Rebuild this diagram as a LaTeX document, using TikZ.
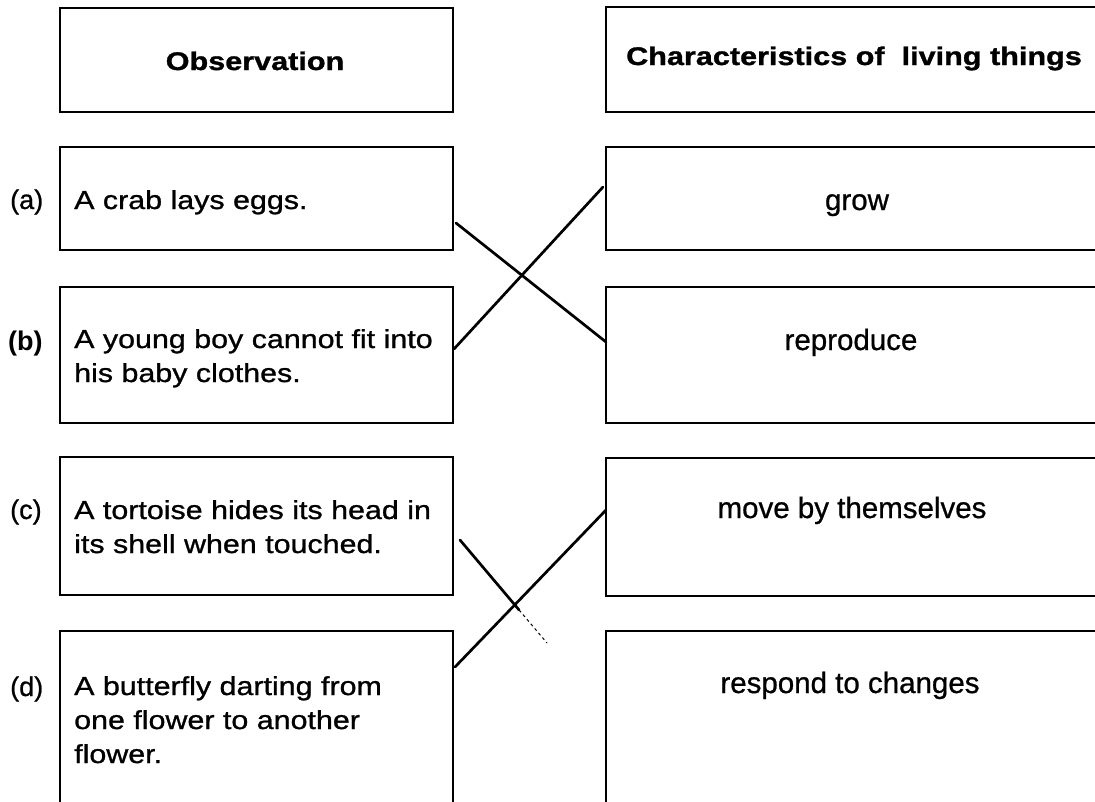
\documentclass[tikz,border=0pt]{standalone}
\usepackage{fontspec}
\setmainfont{Liberation Sans}
\newfontfamily\hdfont[FakeStretch=1.2,FakeBold=1.2]{Liberation Sans}
\newfontfamily\lffont[FakeStretch=1.17,FakeBold=1]{Liberation Sans}
\newfontfamily\rtfont[FakeBold=0.8]{Liberation Sans}
\usetikzlibrary{calc}
\begin{document}
\begin{tikzpicture}[x=1pt,y=-1pt,
  box/.style={draw=black, line width=2pt, rectangle, inner sep=0pt, outer sep=0pt},
  lbox/.style={box, minimum width=393pt},
  rbox/.style={box, minimum width=494pt},
  head/.style={font=\hdfont\bfseries\fontsize{25.5}{30}\selectfont, inner sep=0pt, anchor=base},
  ltext/.style={font=\lffont\fontsize{26}{34}\selectfont, inner sep=0pt, anchor=base west, align=left},
  rtext/.style={font=\rtfont\fontsize{29.5}{34}\selectfont, inner sep=0pt, anchor=base},
  tag/.style={font=\rtfont\fontsize{27}{32}\selectfont, inner sep=0pt, anchor=base west},
  link/.style={line width=2.7pt, line cap=round}]
\useasboundingbox (0,0) rectangle (1095,801);
\begin{scope}
\clip (0,0) rectangle (1095,801);
% boxes
\node[lbox, minimum height=104pt] (hobs) at (256.5,60) {};
\node[rbox, minimum height=105pt] (hchar) at (853,59.5) {};
\node[lbox, minimum height=103pt] (oa) at (256.5,198.5) {};
\node[lbox, minimum height=136pt] (ob) at (256.5,355) {};
\node[lbox, minimum height=138pt] (oc) at (256.5,526) {};
\node[lbox, minimum height=174pt] (od) at (256.5,718) {};
\node[rbox, minimum height=103pt] (cgrow) at (853,198.5) {};
\node[rbox, minimum height=136pt] (crep) at (853,355) {};
\node[rbox, minimum height=138pt] (cmove) at (853,527) {};
\node[rbox, minimum height=174pt] (cresp) at (853,718) {};
% headings
\node[head] (tobs) at (255,70) {Observation};
\node[head] (tchar) at (854,65) {Characteristics of~~living things};
% left texts (base anchor = baseline of last line)
\node[tag] (la) at (10,209) {(a)};
\node[ltext] (ta) at (74,209) {A crab lays eggs.};
\node[tag, font=\bfseries\fontsize{27}{32}\selectfont] (lb) at (8,350) {(b)};
\node[ltext] (tb) at (74,382) {A young boy cannot fit into\\his baby clothes.};
\node[tag] (lc) at (10,519) {(c)};
\node[ltext] (tc) at (74,553) {A tortoise hides its head in\\its shell when touched.};
\node[tag] (ld) at (10,696) {(d)};
\node[ltext] (td) at (74,763) {A butterfly darting from\\one flower to another\\flower.};
% right texts
\node[rtext] (tgrow) at (857,210) {grow};
\node[rtext] (trep) at (851,350) {reproduce};
\node[rtext] (tmove) at (852,518) {move by themselves};
\node[rtext] (tresp) at (850,693) {respond to changes};
% connectors
\draw[link] ([xshift=3pt,yshift=-24.5pt]oa.east) -- ([yshift=13pt]crep.west);
\draw[link] ([xshift=1pt,yshift=6pt]ob.east) -- ([xshift=-3pt,yshift=11.5pt]cgrow.west);
\coordinate (cend) at (547,643);
\coordinate (cstart) at ([xshift=7pt,yshift=-14pt]oc.east);
\draw[link] (cstart) -- ($(cstart)!0.68!(cend)$) coordinate (cmid);
\draw[line width=1pt, dashed] (cmid) -- (cend);
\draw[link] ([xshift=2pt,yshift=51pt]od.east) -- ([yshift=17pt]cmove.west);
\end{scope}
\end{tikzpicture}
\end{document}
